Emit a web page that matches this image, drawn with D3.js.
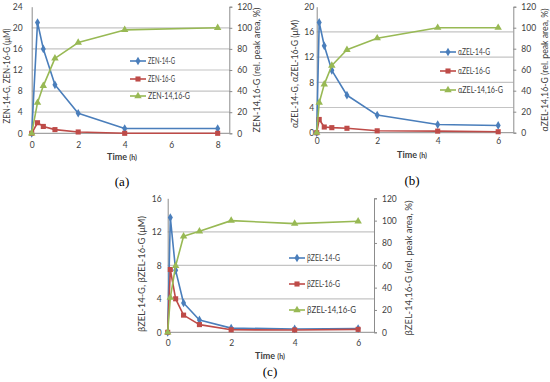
<!DOCTYPE html>
<html>
<head>
<meta charset="utf-8">
<script src="https://cdn.jsdelivr.net/npm/d3@7"></script>
<style>
  body { margin: 0; background: #fff; }
  svg { display: block; font-family: Lato, "Open Sans", sans-serif; }
</style>
</head>
<body>
<div id="chart"></div>
<script>
// (a) ZEN
const timeA = [0, 0.25, 0.5, 1, 2, 4, 8];
const zen14 = [0, 21, 16, 9.2, 3.8, 0.9, 0.9];
const zen16 = [0, 2.0, 1.3, 0.7, 0.25, 0, 0];
const zen1416 = [0, 29, 45, 71, 86, 98, 100];

// (b) alpha-ZEL
const timeB = [0, 0.083, 0.25, 0.5, 1, 2, 4, 6];
const azel14 = [0, 17.5, 13.8, 9.9, 5.95, 2.8, 1.3, 1.15];
const azel16 = [0, 2.1, 0.9, 0.8, 0.7, 0.3, 0.25, 0.15];
const azel1416 = [0, 28.6, 46, 64, 79, 90, 100, 100];

// (c) beta-ZEL
const timeC = [0, 0.083, 0.25, 0.5, 1, 2, 4, 6];
const bzel14 = [0, 13.7, 7.4, 3.5, 1.47, 0.5, 0.4, 0.45];
const bzel16 = [0, 7.5, 4.0, 2.05, 0.92, 0.3, 0.28, 0.35];
const bzel1416 = [0, 31, 59.5, 86, 90.5, 100, 97.3, 99.4];

const xTicksA = [0, 2, 4, 6, 8];
const xTicksBC = [0, 2, 4, 6];
const yTicksA = [0, 4, 8, 12, 16, 20, 24];
const yTicksB = [0, 4, 8, 12, 16, 20];
const yTicksC = [0, 4, 8, 12, 16];
const rightTicks = [0, 20, 40, 60, 80, 100, 120];

const blue = "#4a7ebb", red = "#be4b48", green = "#98b954";
const textCol = "#404040", axisCol = "#8c8c8c", gridCol = "#c4c4c4";

const svg = d3.select("#chart").append("svg")
  .attr("width", 550).attr("height", 382);
svg.append("rect").attr("width", 550).attr("height", 382).attr("fill", "#fff");

const panels = [
  {
    tag: "(a)", time: timeA, xMax: 8.5, xTicks: xTicksA, yTicks: yTicksA,
    names: ["ZEN-14-G", "ZEN-16-G", "ZEN-14,16-G"],
    series: [zen14, zen16, zen1416],
    leftLabel: "ZEN-14-G, ZEN-16-G (μM)",
    rightLabel: "ZEN-14,16-G (rel. peak area, %)",
    x0: 31.7, x1: 229.3, yb: 133.3, yt: 6.7,
    leftPad: 9, bottomPad: 8.5,
    leftLabelX: 7, leftLabelY: 76, leftLen: 95,
    rightLabelX: 257, rightLabelY: 70, rightLen: 125,
    legX: 130, legY: [61, 79, 96], legLen: [27, 27, 42],
    timeX: 122, timeY: 159.5, tagY: 186
  },
  {
    tag: "(b)", time: timeB, xMax: 6.5, xTicks: xTicksBC, yTicks: yTicksB,
    names: ["αZEL-14-G", "αZEL-16-G", "αZEL-14,16-G"],
    series: [azel14, azel16, azel1416],
    leftLabel: "αZEL-14-G, αZEL-16-G (μM)",
    rightLabel: "αZEL-14,16-G (rel. peak area, %)",
    x0: 316.7, x1: 513.3, yb: 132.7, yt: 6.7,
    leftPad: 2.5, bottomPad: 5,
    leftLabelX: 295, leftLabelY: 74, leftLen: 108,
    rightLabelX: 545, rightLabelY: 70, rightLen: 123,
    legX: 440, legY: [52, 71, 90], legLen: [32, 32, 45],
    timeX: 412, timeY: 157.5, tagY: 185
  },
  {
    tag: "(c)", time: timeC, xMax: 6.5, xTicks: xTicksBC, yTicks: yTicksC,
    names: ["βZEL-14-G", "βZEL-16-G", "βZEL-14,16-G"],
    series: [bzel14, bzel16, bzel1416],
    leftLabel: "βZEL-14-G, βZEL-16-G (μM)",
    rightLabel: "βZEL-14,16-G (rel. peak area, %)",
    x0: 167.7, x1: 374, yb: 332.3, yt: 198.3,
    leftPad: 6, bottomPad: 8,
    leftLabelX: 142, leftLabelY: 274, leftLen: 116,
    rightLabelX: 409, rightLabelY: 268, rightLen: 135,
    legX: 289, legY: [258, 284, 310], legLen: [33, 33, 49],
    timeX: 270, timeY: 358.5, tagY: 376
  }
];

const colors = [blue, red, green];
const symbols = [d3.symbolDiamond, d3.symbolSquare, d3.symbolTriangle];
const symSizes = [22, 26, 24];

function drawPanel(p) {
  const g = svg.append("g");
  const x = d3.scaleLinear().domain([0, p.xMax]).range([p.x0, p.x1]);
  const yL = d3.scaleLinear().domain([0, d3.max(p.yTicks)]).range([p.yb, p.yt]);
  const yR = d3.scaleLinear().domain([0, 120]).range([p.yb, p.yt]);

  // gridlines (not at 0 or top)
  g.selectAll(".grid").data(p.yTicks.slice(1, -1)).enter().append("line")
    .attr("x1", p.x0).attr("x2", p.x1)
    .attr("y1", d => yL(d)).attr("y2", d => yL(d))
    .attr("stroke", gridCol).attr("stroke-width", 1.2);

  // axes
  const left = g.append("g").attr("transform", `translate(${p.x0},0)`)
    .call(d3.axisLeft(yL).tickValues(p.yTicks).tickSize(0).tickPadding(p.leftPad));
  const right = g.append("g").attr("transform", `translate(${p.x1},0)`)
    .call(d3.axisRight(yR).tickValues(rightTicks).tickSize(3).tickPadding(5));
  const bottom = g.append("g").attr("transform", `translate(0,${p.yb})`)
    .call(d3.axisBottom(x).tickValues(p.xTicks).tickFormat(d3.format("d"))
      .tickSize(0).tickPadding(p.bottomPad));
  [left, right, bottom].forEach(a => {
    a.select(".domain").attr("stroke", axisCol);
    a.selectAll(".tick line").attr("stroke", axisCol);
    a.selectAll("text").attr("fill", textCol).style("font-size", "8.5px")
      .style("font-family", "Lato, sans-serif");
  });
  bottom.select(".domain").attr("d", `M${p.x0},0H${p.x1}`);

  // series
  p.series.forEach((vals, i) => {
    const y = i === 2 ? yR : yL;
    const pts = p.time.map((t, k) => [t, vals[k]]);
    g.append("path").datum(pts)
      .attr("fill", "none").attr("stroke", colors[i]).attr("stroke-width", 1.6)
      .attr("stroke-linejoin", "round")
      .attr("d", d3.line().x(d => x(d[0])).y(d => y(d[1])));
    g.selectAll(".m" + i).data(pts).enter().append("path")
      .attr("transform", d => `translate(${x(d[0])},${y(d[1])})`)
      .attr("d", d3.symbol().type(symbols[i]).size(symSizes[i]))
      .attr("fill", colors[i]);
  });

  // legend
  p.names.forEach((n, i) => {
    const ly = p.legY[i];
    g.append("line").attr("x1", p.legX).attr("x2", p.legX + 16)
      .attr("y1", ly).attr("y2", ly)
      .attr("stroke", colors[i]).attr("stroke-width", 1.6);
    g.append("path").attr("transform", `translate(${p.legX + 8},${ly})`)
      .attr("d", d3.symbol().type(symbols[i]).size(symSizes[i]))
      .attr("fill", colors[i]);
    g.append("text").attr("x", p.legX + 18).attr("y", ly + 3)
      .attr("textLength", p.legLen[i]).attr("lengthAdjust", "spacingAndGlyphs")
      .attr("fill", textCol).style("font-size", "8.5px").text(n);
  });

  // axis titles
  g.append("text")
    .attr("transform", `translate(${p.leftLabelX},${p.leftLabelY}) rotate(-90)`)
    .attr("text-anchor", "middle").attr("dy", "0.35em")
    .attr("textLength", p.leftLen).attr("lengthAdjust", "spacingAndGlyphs")
    .attr("fill", textCol).style("font-size", "9px").text(p.leftLabel);
  g.append("text")
    .attr("transform", `translate(${p.rightLabelX},${p.rightLabelY}) rotate(-90)`)
    .attr("text-anchor", "middle").attr("dy", "0.35em")
    .attr("textLength", p.rightLen).attr("lengthAdjust", "spacingAndGlyphs")
    .attr("fill", textCol).style("font-size", "9px").text(p.rightLabel);

  const tt = g.append("text").attr("x", p.timeX).attr("y", p.timeY)
    .attr("text-anchor", "middle").attr("fill", textCol)
    .style("font-size", "9px").style("font-weight", "bold");
  tt.append("tspan").text("Time ");
  tt.append("tspan").style("font-size", "7px").text("(h)");

  g.append("text").attr("x", p.timeX).attr("y", p.tagY)
    .attr("text-anchor", "middle").attr("fill", "#000")
    .style("font-family", "'Liberation Serif', 'DejaVu Serif', serif")
    .style("font-size", "13px").text(p.tag);
}

panels.forEach(drawPanel);
</script>
</body>
</html>
